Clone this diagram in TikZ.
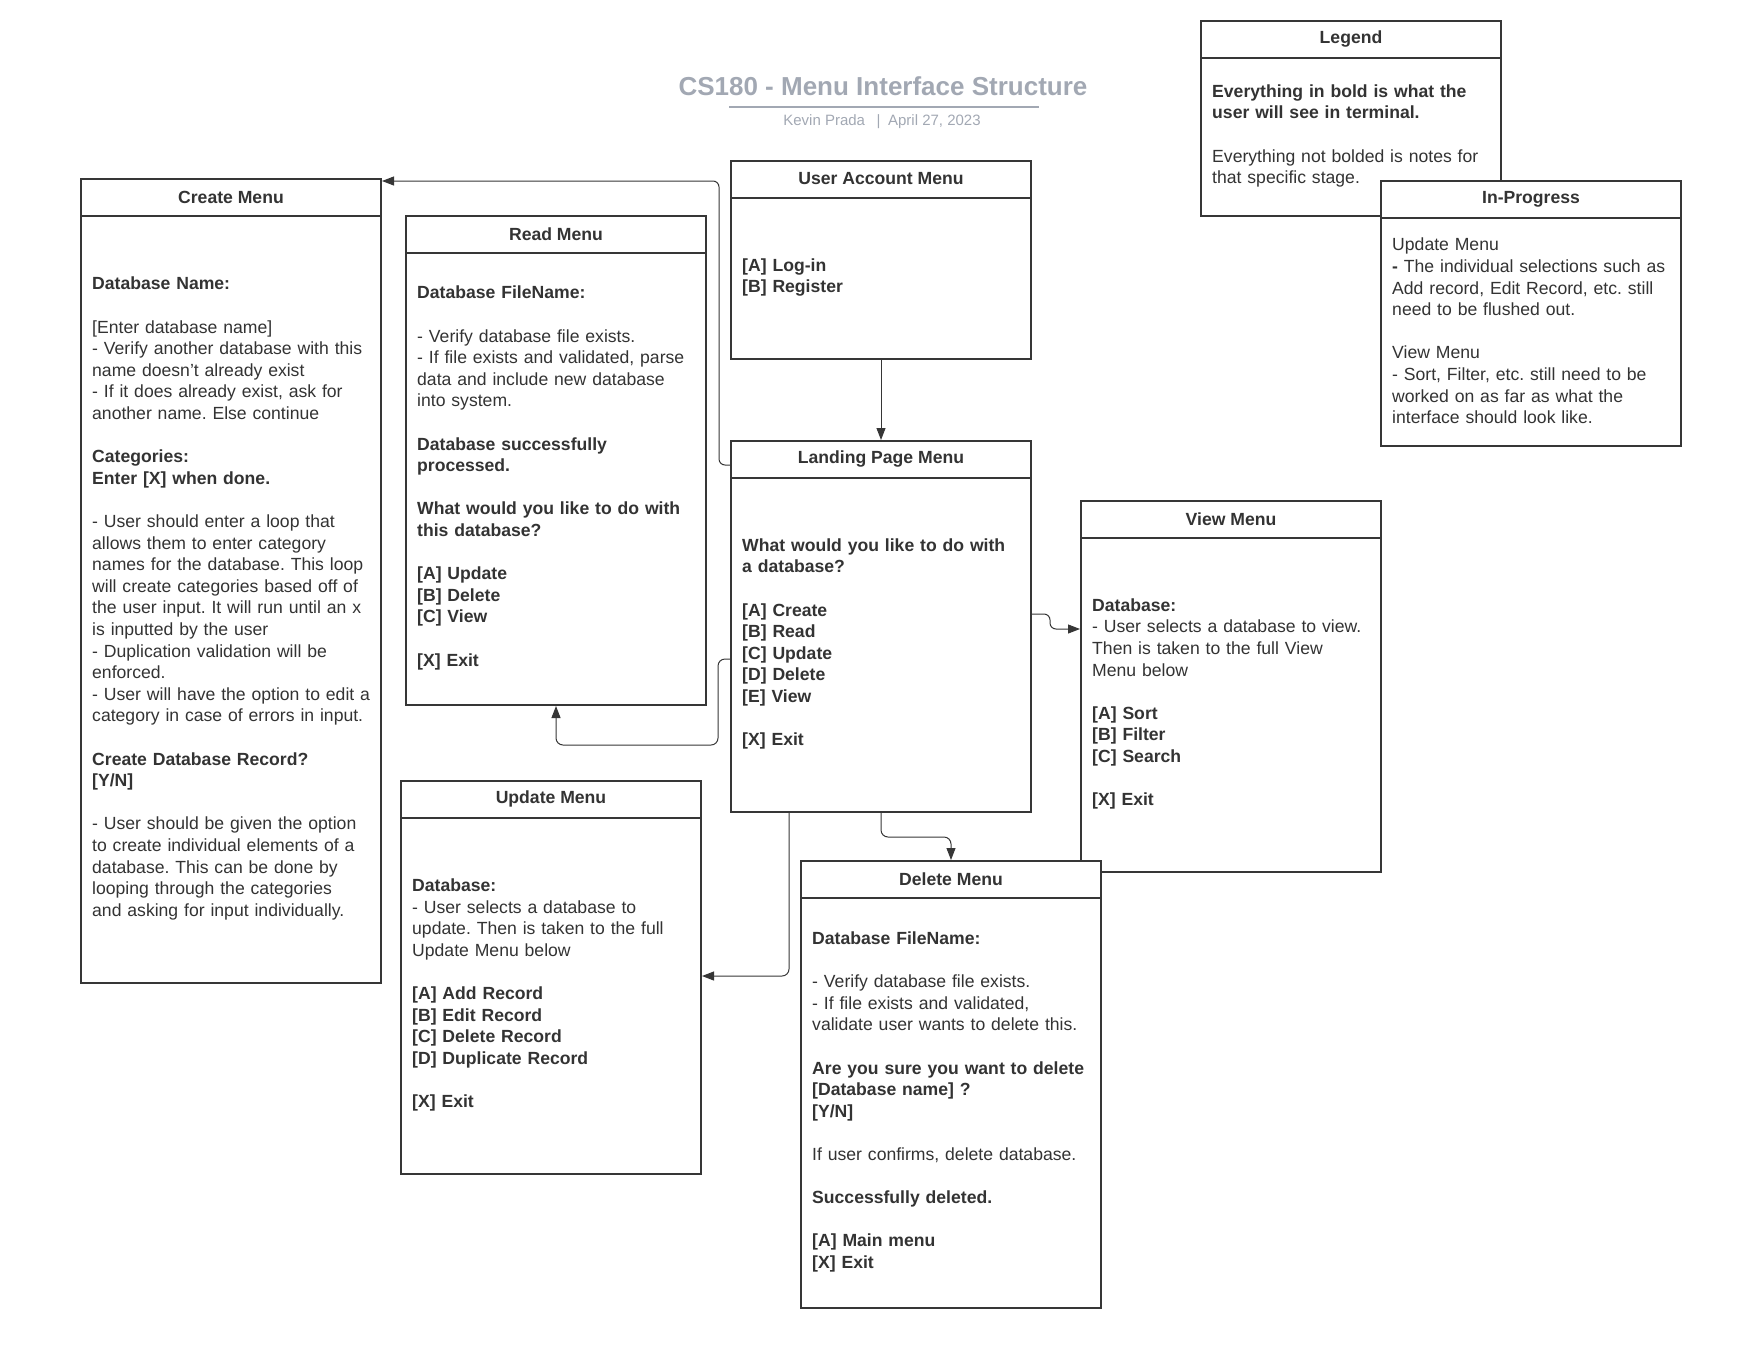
\documentclass[tikz,border=0pt]{standalone}
\usepackage{fontspec}
\setmainfont{Liberation Sans}
\usepackage{tikz}
\usetikzlibrary{arrows.meta, positioning}
\frenchspacing
\definecolor{ink}{HTML}{333333}
\definecolor{frame}{HTML}{363636}
\definecolor{titlegray}{HTML}{A2A8B3}
\tikzstyle{menu} = [rectangle, draw=frame, line width=2pt, fill=white, minimum width=300pt, anchor=north west, inner sep=0pt]
\tikzstyle{menuline} = [draw=frame, line width=2pt]
\tikzstyle{menutitle} = [font=\fontsize{17.6pt}{21.6pt}\selectfont\bfseries, text=ink, anchor=center, inner sep=0pt]
\tikzstyle{menutext} = [font=\fontsize{17.6pt}{21.6pt}\selectfont, text=ink, align=left, text width=290pt, inner xsep=12pt, inner ysep=0pt, anchor=west]
\tikzstyle{arrow} = [draw=frame, line width=1pt, rounded corners=7pt, -{Triangle[length=12pt,width=9pt]}]

\begin{document}
\begin{tikzpicture}[x=1pt, y=-1pt]
        \useasboundingbox (0,0) rectangle (1760,1360);

        \node (title) [font=\fontsize{26pt}{31pt}\selectfont\bfseries, text=titlegray] at (883,86) {CS180 - Menu Interface Structure};
        \draw [titlegray, line width=2.5pt] (729,107) -- (1039,107);
        \node (subtitle) [font=\fontsize{15pt}{18pt}\selectfont, text=titlegray] at (882,122) {Kevin Prada \enspace|\enspace April 27, 2023};

        \node (create) [menu, minimum height=804pt] at (80,178) {};
        \draw [menuline] ([yshift=-38pt]create.north west) -- ([yshift=-38pt]create.north east);
        \node (create_title) [menutitle] at ([yshift=-19pt]create.north) {Create Menu};
        \node (create_text) [menutext] at ([yshift=-17.5pt]create.west) {\textbf{Database Name:}\\[21.6pt]
            [Enter database name]\\
            - Verify another database with this\\
            name doesn't already exist\\
            - If it does already exist, ask for\\
            another name. Else continue\\[21.6pt]
            \textbf{Categories:}\\
            \textbf{Enter [X] when done.}\\[21.6pt]
            - User should enter a loop that\\
            allows them to enter category\\
            names for the database. This loop\\
            will create categories based off of\\
            the user input. It will run until an x\\
            is inputted by the user\\
            - Duplication validation will be\\
            enforced.\\
            - User will have the option to edit a\\
            category in case of errors in input.\\[21.6pt]
            \textbf{Create Database Record?}\\
            \textbf{[Y/N]}\\[21.6pt]
            - User should be given the option\\
            to create individual elements of a\\
            database. This can be done by\\
            looping through the categories\\
            and asking for input individually.};

        \node (read) [menu, minimum height=489pt] at (405,215) {};
        \draw [menuline] ([yshift=-38pt]read.north west) -- ([yshift=-38pt]read.north east);
        \node (read_title) [menutitle] at ([yshift=-19pt]read.north) {Read Menu};
        \node (read_text) [menutext] at ([yshift=-17.5pt]read.west) {\textbf{Database FileName:}\\[21.6pt]
            - Verify database file exists.\\
            - If file exists and validated, parse\\
            data and include new database\\
            into system.\\[21.6pt]
            \textbf{Database successfully}\\
            \textbf{processed.}\\[21.6pt]
            \textbf{What would you like to do with}\\
            \textbf{this database?}\\[21.6pt]
            \textbf{[A] Update}\\
            \textbf{[B] Delete}\\
            \textbf{[C] View}\\[21.6pt]
            \textbf{[X] Exit}};

        \node (useracct) [menu, minimum height=198pt] at (730,160) {};
        \draw [menuline] ([yshift=-38pt]useracct.north west) -- ([yshift=-38pt]useracct.north east);
        \node (useracct_title) [menutitle] at ([yshift=-19pt]useracct.north) {User Account Menu};
        \node (useracct_text) [menutext] at ([yshift=-17.5pt]useracct.west) {\textbf{[A] Log-in}\\
            \textbf{[B] Register}};

        \node (landing) [menu, minimum height=371pt] at (730,440) {};
        \draw [menuline] ([yshift=-38pt]landing.north west) -- ([yshift=-38pt]landing.north east);
        \node (landing_title) [menutitle] at ([yshift=-19pt]landing.north) {Landing Page Menu};
        \node (landing_text) [menutext] at ([yshift=-17.5pt]landing.west) {\textbf{What would you like to do with}\\
            \textbf{a database?}\\[21.6pt]
            \textbf{[A] Create}\\
            \textbf{[B] Read}\\
            \textbf{[C] Update}\\
            \textbf{[D] Delete}\\
            \textbf{[E] View}\\[21.6pt]
            \textbf{[X] Exit}};

        \node (view) [menu, minimum height=371pt] at (1080,500) {};
        \draw [menuline] ([yshift=-38pt]view.north west) -- ([yshift=-38pt]view.north east);
        \node (view_title) [menutitle] at ([yshift=-19pt]view.north) {View Menu};
        \node (view_text) [menutext] at ([yshift=-17.5pt]view.west) {\textbf{Database:}\\
            - User selects a database to view.\\
            Then is taken to the full View\\
            Menu below\\[21.6pt]
            \textbf{[A] Sort}\\
            \textbf{[B] Filter}\\
            \textbf{[C] Search}\\[21.6pt]
            \textbf{[X] Exit}};

        \node (update) [menu, minimum height=393pt] at (400,780) {};
        \draw [menuline] ([yshift=-38pt]update.north west) -- ([yshift=-38pt]update.north east);
        \node (update_title) [menutitle] at ([yshift=-19pt]update.north) {Update Menu};
        \node (update_text) [menutext] at ([yshift=-17.5pt]update.west) {\textbf{Database:}\\
            - User selects a database to\\
            update. Then is taken to the full\\
            Update Menu below\\[21.6pt]
            \textbf{[A] Add Record}\\
            \textbf{[B] Edit Record}\\
            \textbf{[C] Delete Record}\\
            \textbf{[D] Duplicate Record}\\[21.6pt]
            \textbf{[X] Exit}};

        \node (delete) [menu, minimum height=447pt] at (800,860) {};
        \draw [menuline] ([yshift=-38pt]delete.north west) -- ([yshift=-38pt]delete.north east);
        \node (delete_title) [menutitle] at ([yshift=-19pt]delete.north) {Delete Menu};
        \node (delete_text) [menutext] at ([yshift=-17.5pt]delete.west) {\textbf{Database FileName:}\\[21.6pt]
            - Verify database file exists.\\
            - If file exists and validated,\\
            validate user wants to delete this.\\[21.6pt]
            \textbf{Are you sure you want to delete}\\
            \textbf{[Database name] ?}\\
            \textbf{[Y/N]}\\[21.6pt]
            If user confirms, delete database.\\[21.6pt]
            \textbf{Successfully deleted.}\\[21.6pt]
            \textbf{[A] Main menu}\\
            \textbf{[X] Exit}};

        \node (legend) [menu, minimum height=195pt] at (1200,20) {};
        \draw [menuline] ([yshift=-38pt]legend.north west) -- ([yshift=-38pt]legend.north east);
        \node (legend_title) [menutitle] at ([yshift=-19pt]legend.north) {Legend};
        \node (legend_text) [menutext] at ([yshift=-17.5pt]legend.west) {\textbf{Everything in bold is what the}\\
            \textbf{user will see in terminal.}\\[21.6pt]
            Everything not bolded is notes for\\
            that specific stage.};

        \node (inprog) [menu, minimum height=265pt] at (1380,180) {};
        \draw [menuline] ([yshift=-38pt]inprog.north west) -- ([yshift=-38pt]inprog.north east);
        \node (inprog_title) [menutitle] at ([yshift=-19pt]inprog.north) {In-Progress};
        \node (inprog_text) [menutext] at ([yshift=-17.5pt]inprog.west) {Update Menu\\
            \textbf{-} The individual selections such as\\
            Add record, Edit Record, etc. still\\
            need to be flushed out.\\[21.6pt]
            View Menu\\
            - Sort, Filter, etc. still need to be\\
            worked on as far as what the\\
            interface should look like.};

        \draw [arrow] (useracct.south) -- (landing.north);
        \draw [arrow, rounded corners=6pt] ([yshift=-25pt]landing.north west) -- ++(-11,0) |- ([yshift=-3pt]create.north east);
        \draw [arrow] ([yshift=-219pt]landing.north west) -- ++(-12,0) -- ++(0,86) -| (read.south);
        \draw [arrow, rounded corners=6pt] ([yshift=-174pt]landing.north east) -- ++(18,0) |- ([yshift=-129pt]view.north west);
        \draw [arrow] (landing.south) -- ++(0,24) -| (delete.north);
        \draw [arrow] ([xshift=59pt]landing.south west) |- ([yshift=-196pt]update.north east);

\end{tikzpicture}
\end{document}
